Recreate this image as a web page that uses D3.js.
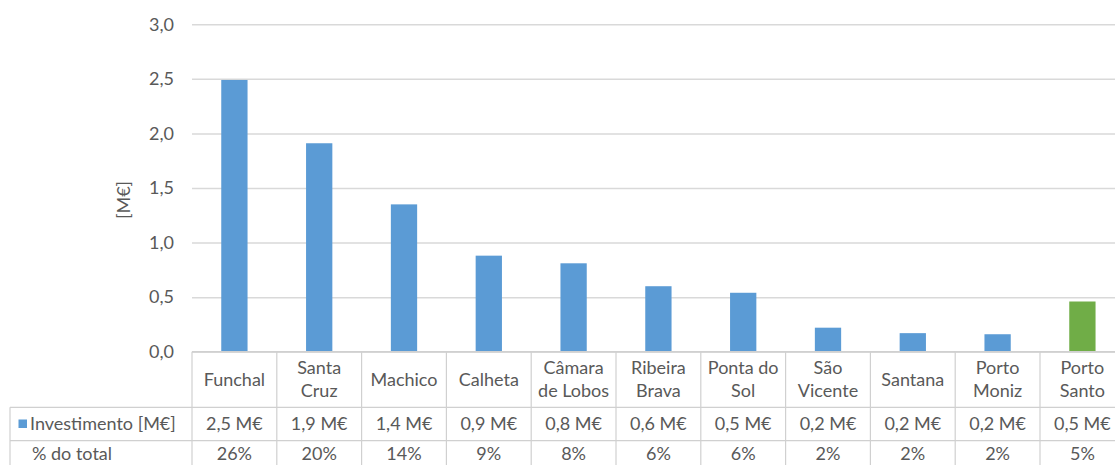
<!DOCTYPE html>
<html>
<head>
<meta charset="utf-8">
<script src="https://cdn.jsdelivr.net/npm/d3@7"></script>
<style>
  html, body { margin: 0; padding: 0; background: #fff; }
  svg { display: block; }
  text { font-family: Lato, "Noto Sans", sans-serif; fill: #595959; }
</style>
</head>
<body>
<svg id="chart" width="1115" height="465"></svg>
<script>
// ---- data ----
const categories = ["Funchal", "Santa\nCruz", "Machico", "Calheta", "Câmara\nde Lobos", "Ribeira\nBrava",
                    "Ponta do\nSol", "São\nVicente", "Santana", "Porto\nMoniz", "Porto\nSanto"];
const investimento = [2.49, 1.91, 1.35, 0.88, 0.81, 0.60, 0.54, 0.22, 0.17, 0.16, 0.46];
const investimentoLabels = ["2,5 M€", "1,9 M€", "1,4 M€", "0,9 M€", "0,8 M€", "0,6 M€", "0,5 M€", "0,2 M€", "0,2 M€", "0,2 M€", "0,5 M€"];
const percentLabels = ["26%", "20%", "14%", "9%", "8%", "6%", "6%", "2%", "2%", "2%", "5%"];
const highlighted = ["Porto\nSanto"];
const yTicks = [0, 0.5, 1.0, 1.5, 2.0, 2.5, 3.0];
const seriesName = "Investimento [M€]";
const rowName2 = "% do total";
const yAxisTitle = "[M€]";

// ---- layout ----
const W = 1115, H = 465;
const plotLeft = 192, plotRight = 192 + 11 * 84.8;
const yTop = 24.3, yZero = 351.7;
const tableLeft = 10;
const row1Bottom = 407.3, row2Bottom = 440.7;
const blue = "#5B9BD5", green = "#70AD47", grid = "#D9D9D9", border = "#D0D0D0";

const svg = d3.select("#chart");

const x = d3.scaleBand().domain(categories).range([plotLeft, plotRight]).paddingInner(0).paddingOuter(0);
const y = d3.scaleLinear().domain([0, 3]).range([yZero, yTop]);
const fmt = v => d3.format(".1f")(v).replace(".", ",");

// gridlines
const gridAxis = d3.axisLeft(y).tickValues(yTicks).tickSize(-(W - plotLeft)).tickFormat("");
const gg = svg.append("g").attr("transform", `translate(${plotLeft},0)`).call(gridAxis);
gg.select(".domain").remove();
gg.selectAll("line").attr("stroke", grid).attr("stroke-width", 1.5);

// y tick labels
const labelAxis = d3.axisLeft(y).tickValues(yTicks).tickSize(0).tickPadding(0).tickFormat(fmt);
const lg = svg.append("g").attr("transform", `translate(174,0)`).call(labelAxis);
lg.select(".domain").remove();
lg.selectAll("text").attr("font-size", 18).attr("fill", "#595959")
  .style("font-family", "Lato, 'Noto Sans', sans-serif");

// y axis title
svg.append("text")
  .attr("transform", `translate(130,200) rotate(-90)`)
  .attr("text-anchor", "middle")
  .attr("font-size", 18)
  .text(yAxisTitle);

// bars
const barW = x.bandwidth() * 0.31;
svg.append("g").selectAll("rect")
  .data(categories)
  .join("rect")
  .attr("x", d => x(d) + (x.bandwidth() - barW) / 2)
  .attr("y", (d, i) => y(investimento[i]))
  .attr("width", barW)
  .attr("height", (d, i) => y(0) - y(investimento[i]))
  .attr("fill", d => highlighted.includes(d) ? green : blue);

// ---- data table ----
const tg = svg.append("g");
const line = (x1, y1, x2, y2) => tg.append("line")
  .attr("x1", x1).attr("y1", y1).attr("x2", x2).attr("y2", y2)
  .attr("stroke", border).attr("stroke-width", 1.2);

// horizontal lines
line(plotLeft, yZero, W, yZero);
line(tableLeft, row1Bottom, W, row1Bottom);
line(tableLeft, row2Bottom, W, row2Bottom);
// left edges
line(tableLeft, row1Bottom, tableLeft, H);
// column separators
categories.forEach(c => line(x(c), yZero, x(c), H));
line(plotRight, yZero, plotRight, H);

// header category names
categories.forEach(c => {
  const parts = c.split("\n");
  const cx = x(c) + x.bandwidth() / 2;
  const cy = (yZero + row1Bottom) / 2;
  const lh = 23;
  parts.forEach((p, k) => {
    tg.append("text")
      .attr("x", cx)
      .attr("y", cy + (k - (parts.length - 1) / 2) * lh)
      .attr("dy", "0.35em")
      .attr("text-anchor", "middle")
      .attr("font-size", 18)
      .text(p);
  });
});

// row 2 and row 3 values
const r2c = (row1Bottom + row2Bottom) / 2;
const r3base = 459.5;
categories.forEach((c, i) => {
  const cx = x(c) + x.bandwidth() / 2;
  tg.append("text").attr("x", cx).attr("y", r2c).attr("dy", "0.35em")
    .attr("text-anchor", "middle").attr("font-size", 18).text(investimentoLabels[i]);
  tg.append("text").attr("x", cx).attr("y", r3base)
    .attr("text-anchor", "middle").attr("font-size", 18).text(percentLabels[i]);
});

// row headers
tg.append("rect").attr("x", 18.5).attr("y", r2c - 4.5).attr("width", 8.5).attr("height", 8.5).attr("fill", blue);
tg.append("text").attr("x", 30).attr("y", r2c).attr("dy", "0.35em")
  .attr("font-size", 18).text(seriesName);
tg.append("text").attr("x", 32).attr("y", r3base)
  .attr("font-size", 18).text(rowName2);
</script>
</body>
</html>
